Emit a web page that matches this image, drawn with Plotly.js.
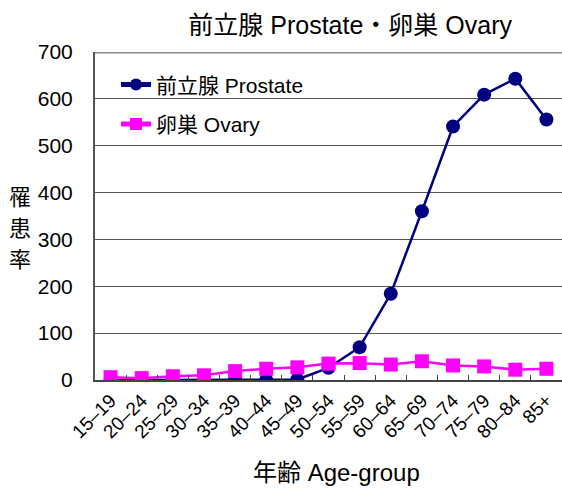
<!DOCTYPE html>
<html><head><meta charset="utf-8">
<script src="https://cdn.plot.ly/plotly-3.0.1.min.js"></script>
<style>html,body{margin:0;padding:0;background:#fff}</style>
</head><body><div id="chart" style="width:562px;height:488px"></div>
<script>
const ageGroups = ["15\u201319","20\u201324","25\u201329","30\u201334","35\u201339","40\u201344","45\u201349","50\u201354","55\u201359","60\u201364","65\u201369","70\u201374","75\u201379","80\u201384","85+"];
const prostate = [0, 0, 0, 0, 0, 0, 1, 26, 70, 184, 360, 541, 609, 643, 556];
const ovary = [6, 4, 8, 10, 19, 24, 27, 35, 36, 33, 40, 31, 29, 22, 24];
const yTicks = [0,100,200,300,400,500,600,700];
const yTitleChars = ["罹", "患", "率"];

const FONT = "Liberation Sans, Arial, 'Noto Sans CJK JP', sans-serif";
const traces = [
  {x: ageGroups, y: prostate, name: "前立腺 Prostate", type: "scatter", mode: "lines+markers",
   legendgroup: "a",
   line: {color: "#000080", width: 2.5}, marker: {color: "#000080", size: 14, symbol: "circle"}},
  {x: ageGroups, y: ovary, name: "卵巣 Ovary", type: "scatter", mode: "lines+markers",
   legendgroup: "b",
   line: {color: "#FF00FF", width: 2.5}, marker: {color: "#FF00FF", size: 14, symbol: "square"}}
];
const yTitleAnn = yTitleChars.map((c, i) => ({
  text: c, xref: "paper", yref: "paper", x: -0.1606, y: (380 - (195 + i * 31)) / 328,
  xanchor: "center", yanchor: "middle", showarrow: false,
  font: {size: 22, family: "'Noto Sans CJK JP', sans-serif"}
}));
const layout = {
  width: 562, height: 488,
  margin: {l: 95, r: 0, t: 52, b: 108},
  paper_bgcolor: "#fff", plot_bgcolor: "#fff",
  font: {family: FONT, size: 16, color: "#000"},
  title: {text: "前立腺 Prostate・卵巣 Ovary", font: {size: 25, family: FONT, color: "#000"}, x: 0.623, xanchor: "center", y: 0.949, yanchor: "middle"},
  showlegend: true,
  legend: {x: 0.045, y: 0.962, xanchor: "left", yanchor: "top", bgcolor: "rgba(0,0,0,0)", font: {size: 21}, tracegroupgap: 9, traceorder: "grouped", itemsizing: "constant"},
  xaxis: {type: "category", range: [-0.5, 14.5], tickangle: -45, tickfont: {size: 19}, showgrid: false,
    showline: true, linecolor: "#444", linewidth: 2, ticks: "inside", tickson: "boundaries", ticklen: 5, tickcolor: "#444", tickwidth: 1, automargin: false},
  yaxis: {range: [0, 700], tickvals: yTicks, ticktext: yTicks.map(String), tickfont: {size: 21},
    showgrid: true, gridcolor: "#555", gridwidth: 1, zeroline: false,
    showline: true, linecolor: "#555", linewidth: 2, mirror: false, ticks: "outside", ticklen: 16, tickcolor: "rgba(0,0,0,0)", automargin: false},
  shapes: [{type: "line", xref: "paper", yref: "y", x0: 0, x1: 1, y0: 700, y1: 700, line: {color: "#888", width: 3}}],
  annotations: yTitleAnn.concat([{text: "年齢 Age-group", xref: "paper", yref: "paper", x: 0.518, y: (380 - 472) / 328,
    xanchor: "center", yanchor: "middle", showarrow: false, font: {size: 24, family: FONT}}])
};
Plotly.newPlot("chart", traces, layout, {displayModeBar: false, staticPlot: true});
</script></body></html>
